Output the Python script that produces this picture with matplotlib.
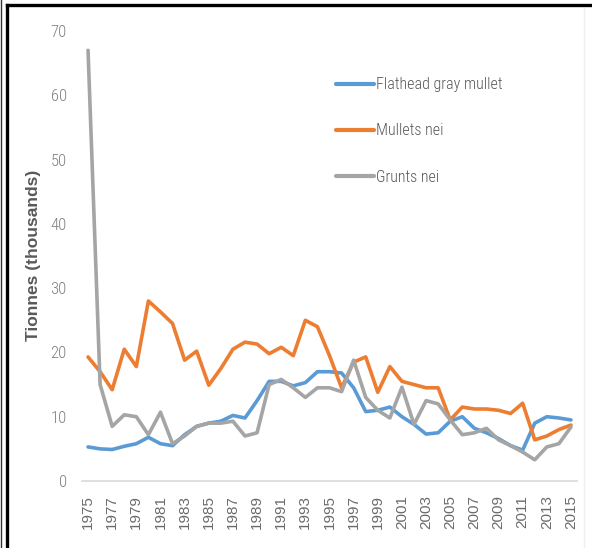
import matplotlib
matplotlib.use("Agg")
import matplotlib.pyplot as plt
from matplotlib.lines import Line2D

years = list(range(1975, 2016))

flathead = [5.3, 5.0, 4.9, 5.4, 5.8, 6.8, 5.8, 5.5, 7.2, 8.5,
            9.0, 9.3, 10.2, 9.8, 12.5, 15.5, 15.5, 14.8, 15.3, 17.0,
            17.0, 16.8, 14.5, 10.8, 11.0, 11.5, 10.0, 8.8, 7.3, 7.5,
            9.3, 10.0, 8.2, 7.5, 6.6, 5.5, 4.8, 9.0, 10.0, 9.8, 9.5]

mullets = [19.3, 17.0, 14.2, 20.5, 17.8, 28.0, 26.3, 24.5, 18.8, 20.2,
           14.9, 17.5, 20.5, 21.6, 21.3, 19.8, 20.8, 19.5, 25.0, 24.0,
           19.5, 14.5, 18.5, 19.3, 13.8, 17.8, 15.5, 15.0, 14.5, 14.5,
           9.5, 11.5, 11.2, 11.2, 11.0, 10.5, 12.1, 6.4, 7.0, 8.0, 8.7]

grunts = [67.0, 15.0, 8.5, 10.3, 10.0, 7.2, 10.7, 5.8, 7.0, 8.5,
          9.0, 9.0, 9.3, 7.0, 7.5, 15.0, 15.8, 14.5, 13.0, 14.5,
          14.5, 13.9, 18.8, 13.0, 11.0, 9.8, 14.6, 8.8, 12.5, 12.0,
          9.5, 7.2, 7.5, 8.2, 6.4, 5.5, 4.5, 3.3, 5.3, 5.8, 8.4]

series_names = ["Flathead gray mullet", "Mullets nei", "Grunts nei"]
colors = ["#5B9BD5", "#ED7D31", "#A5A5A5"]

narrow = ["Roboto Condensed", "Archivo Narrow", "PT Sans Narrow", "DejaVu Sans"]

fig = plt.figure(figsize=(5.92, 5.48), dpi=100)
ax = fig.add_axes([82 / 592, 1 - 481 / 548, (577 - 82) / 592, (481 - 31) / 548])

for vals, name, c in zip([flathead, mullets, grunts], series_names, colors):
    ax.plot(years, vals, color=c, lw=2.6, label=name,
            solid_joinstyle="round", solid_capstyle="round")

ax.set_xlim(1974.5, 2015.5)
ax.set_ylim(0, 70)
ax.set_yticks(range(0, 71, 10))
ax.set_xticks(years[::2])
ax.set_xticklabels([str(y) for y in years[::2]], rotation=90,
                   fontsize=11, color="#6b6b6b", family="Liberation Sans")
for lab in ax.get_yticklabels():
    lab.set_family(narrow)
    lab.set_fontweight("light")
ax.tick_params(axis="y", length=0, labelsize=12, labelcolor="#808080", pad=11)
ax.tick_params(axis="x", length=0, pad=10)

for s in ["top", "right", "left"]:
    ax.spines[s].set_visible(False)
ax.spines["bottom"].set_color("#D9D9D9")
ax.spines["bottom"].set_linewidth(1.2)

fig.text(34 / 592, 1 - 255 / 548, "Tionnes (thousands)", rotation=90,
         ha="center", va="center", fontsize=12.5, fontweight="bold",
         color="#595959", family="Liberation Sans")

leg = ax.legend(loc="center left", bbox_to_anchor=((328 - 82) / 495, (481 - 131) / 450),
                frameon=False, handlelength=2.35, handletextpad=0.15,
                labelspacing=1.95, borderpad=0,
                prop={"family": narrow, "size": 11.5, "weight": "light"})
for t in leg.get_texts():
    t.set_color("#595959")
for h in leg.get_lines():
    h.set_linewidth(3)

# black frame lines around the picture
fig.add_artist(Line2D([7 / 592, 1], [1 - 5 / 548, 1 - 5 / 548], color="black", lw=2.4))
fig.add_artist(Line2D([7 / 592, 7 / 592], [0, 1 - 5 / 548], color="black", lw=2.4))
fig.add_artist(Line2D([0.8 / 592, 0.8 / 592], [0, 1], color="#333333", lw=1))
fig.add_artist(Line2D([584 / 592, 584 / 592], [0, 1 - 8 / 548], color="#EFEFEF", lw=1))

fig.savefig("out.png", dpi=100)
